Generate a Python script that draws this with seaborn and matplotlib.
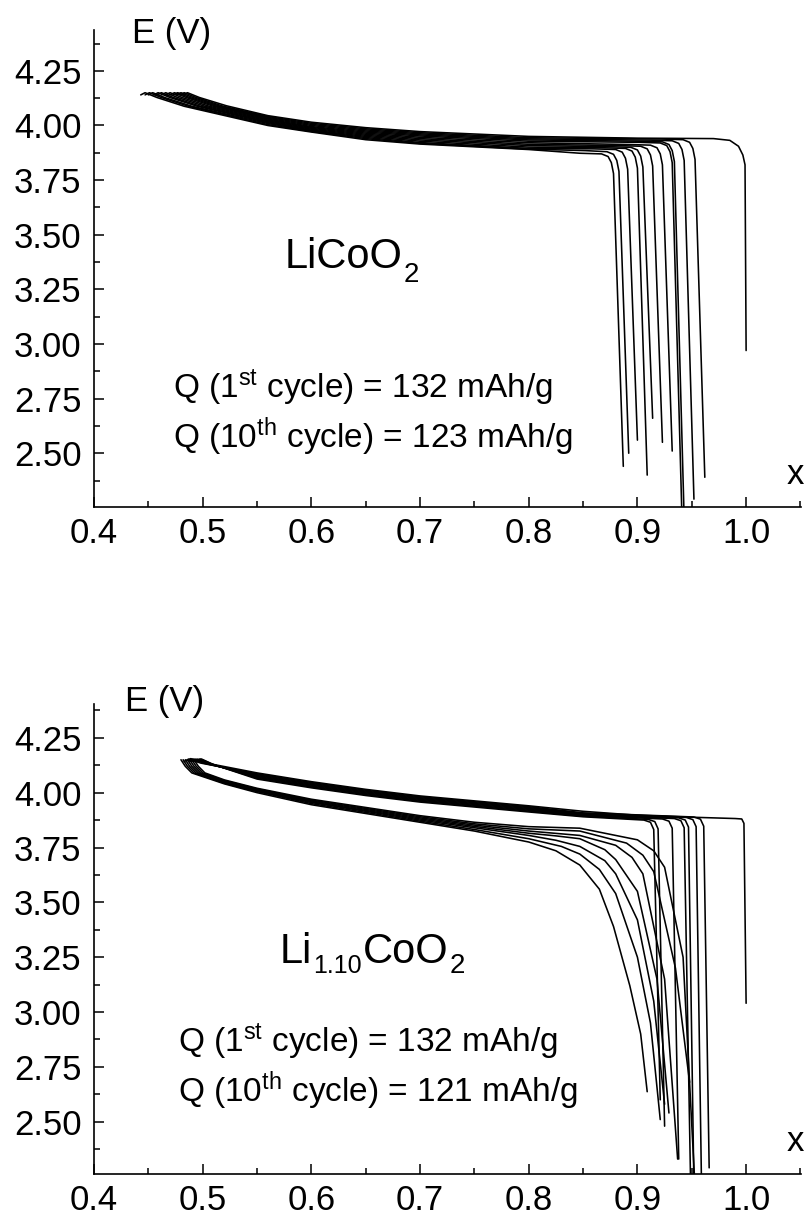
import numpy as np
import pandas as pd
import matplotlib
matplotlib.use("Agg")
import matplotlib.pyplot as plt
import seaborn as sns

# discharge curves, LiCoO2 (top panel), one list of points per cycle
top_x = [
    [.482, .486, .497, .522, .56, .6, .65, .7, .8, .9, .97, .985, .993, .997, .999, 1.0],
    [.479, .483, .494, .519, .56, .6, .65, .7, .8, .922, .942, .948, .951, .953, .962],
    [.476, .480, .491, .516, .56, .6, .65, .7, .8, .912, .932, .938, .941, .943, .952],
    [.473, .477, .488, .513, .56, .6, .65, .7, .8, .903, .923, .929, .932, .934, .943],
    [.470, .474, .485, .510, .56, .6, .65, .7, .8, .901, .921, .927, .930, .932, .941],
    [.466, .470, .481, .506, .56, .6, .65, .7, .8, .892, .912, .918, .921, .923, .932],
    [.462, .466, .477, .502, .56, .6, .65, .7, .8, .883, .903, .909, .912, .914, .923],
    [.458, .462, .473, .498, .56, .6, .65, .7, .8, .874, .894, .900, .903, .905, .914],
    [.455, .459, .470, .495, .56, .6, .65, .7, .8, .869, .889, .895, .898, .900, .909],
    [.450, .454, .465, .490, .56, .6, .65, .7, .8, .860, .880, .886, .889, .891, .900],
    [.447, .451, .462, .487, .56, .6, .65, .7, .8, .852, .872, .878, .881, .883, .892],
    [.443, .447, .458, .483, .56, .6, .65, .7, .8, .847, .867, .873, .876, .878, .887],
]
top_v = [
    [4.140, 4.150, 4.128, 4.090, 4.045, 4.015, 3.990, 3.972, 3.950, 3.942, 3.940, 3.932, 3.905, 3.865, 3.820, 2.97],
    [4.140, 4.150, 4.128, 4.088, 4.041, 4.010, 3.985, 3.967, 3.944, 3.938, 3.935, 3.923, 3.895, 3.845, 2.39],
    [4.140, 4.150, 4.128, 4.088, 4.037, 4.005, 3.980, 3.962, 3.939, 3.933, 3.930, 3.918, 3.890, 3.840, 2.29],
    [4.140, 4.150, 4.128, 4.088, 4.033, 4.000, 3.975, 3.957, 3.934, 3.928, 3.925, 3.913, 3.885, 3.835, 2.20],
    [4.140, 4.150, 4.128, 4.088, 4.029, 3.995, 3.970, 3.952, 3.928, 3.923, 3.920, 3.908, 3.880, 3.830, 2.20],
    [4.140, 4.150, 4.128, 4.088, 4.025, 3.991, 3.965, 3.946, 3.921, 3.913, 3.910, 3.898, 3.870, 3.820, 2.51],
    [4.140, 4.150, 4.128, 4.088, 4.021, 3.987, 3.960, 3.940, 3.914, 3.908, 3.905, 3.893, 3.865, 3.815, 2.55],
    [4.140, 4.150, 4.128, 4.088, 4.017, 3.983, 3.955, 3.934, 3.908, 3.903, 3.900, 3.888, 3.860, 3.810, 2.66],
    [4.140, 4.150, 4.128, 4.088, 4.013, 3.979, 3.950, 3.928, 3.901, 3.898, 3.895, 3.883, 3.855, 3.805, 2.40],
    [4.140, 4.150, 4.128, 4.088, 4.009, 3.976, 3.945, 3.922, 3.895, 3.893, 3.890, 3.878, 3.850, 3.800, 2.56],
    [4.140, 4.150, 4.128, 4.088, 4.004, 3.973, 3.940, 3.918, 3.892, 3.885, 3.880, 3.868, 3.840, 3.790, 2.50],
    [4.140, 4.150, 4.128, 4.088, 4.000, 3.970, 3.935, 3.915, 3.890, 3.873, 3.870, 3.858, 3.830, 3.780, 2.44],
]

# discharge curves, Li1.10CoO2 (bottom panel)
bot_x = [
    [.485, .489, .500, .55, .6, .65, .7, .8, .85, .9, .95, .990, .996, .998, 1.0],
    [.495, .499, .510, .55, .6, .65, .7, .8, .85, .906, .912, .915, .921],
    [.494, .498, .509, .55, .6, .65, .7, .8, .85, .910, .916, .919, .925],
    [.493, .497, .508, .55, .6, .65, .7, .8, .85, .923, .929, .932, .938],
    [.491, .495, .506, .55, .6, .65, .7, .8, .85, .934, .940, .943, .949],
    [.489, .493, .504, .55, .6, .65, .7, .8, .85, .938, .944, .947, .952],
    [.487, .491, .502, .55, .6, .65, .7, .8, .85, .945, .951, .954, .959],
    [.483, .487, .498, .55, .6, .65, .7, .8, .85, .952, .958, .961, .966],
    [.480, .484, .490, .52, .55, .6, .7, .75, .8, .825, .847, .865, .878, .893, .903, .909],
    [.482, .486, .492, .52, .55, .6, .7, .75, .8, .83, .847, .865, .88, .90, .912, .921],
    [.484, .488, .494, .52, .55, .6, .7, .75, .8, .825, .847, .87, .88, .90, .915, .925],
    [.486, .490, .496, .52, .55, .6, .7, .75, .8, .825, .847, .87, .88, .90, .918, .929],
    [.488, .492, .498, .52, .55, .6, .7, .75, .8, .847, .88, .895, .905, .925, .937],
    [.490, .494, .500, .52, .55, .6, .7, .75, .8, .847, .89, .905, .915, .935, .948],
    [.492, .496, .502, .52, .55, .6, .7, .75, .8, .847, .9, .915, .925, .942, .953],
]
bot_v = [
    [4.145, 4.155, 4.138, 4.090, 4.050, 4.015, 3.985, 3.940, 3.915, 3.897, 3.888, 3.882, 3.880, 3.860, 3.04],
    [4.142, 4.153, 4.128, 4.062, 4.022, 3.987, 3.957, 3.912, 3.890, 3.875, 3.865, 3.832, 2.60],
    [4.142, 4.153, 4.129, 4.066, 4.026, 3.991, 3.961, 3.916, 3.893, 3.878, 3.868, 3.835, 2.48],
    [4.142, 4.153, 4.130, 4.070, 4.030, 3.995, 3.965, 3.920, 3.896, 3.880, 3.870, 3.838, 2.33],
    [4.142, 4.153, 4.131, 4.074, 4.034, 3.999, 3.969, 3.924, 3.899, 3.882, 3.872, 3.840, 2.20],
    [4.142, 4.153, 4.132, 4.078, 4.038, 4.003, 3.973, 3.928, 3.902, 3.885, 3.875, 3.843, 2.20],
    [4.142, 4.153, 4.133, 4.082, 4.042, 4.007, 3.977, 3.932, 3.905, 3.887, 3.877, 3.845, 2.20],
    [4.142, 4.153, 4.135, 4.086, 4.046, 4.011, 3.981, 3.936, 3.908, 3.889, 3.879, 3.847, 2.29],
    [4.150, 4.120, 4.090, 4.040, 4.000, 3.945, 3.865, 3.825, 3.775, 3.735, 3.670, 3.560, 3.390, 3.120, 2.900, 2.637],
    [4.150, 4.120, 4.090, 4.043, 4.005, 3.950, 3.870, 3.832, 3.790, 3.755, 3.720, 3.650, 3.540, 3.250, 2.950, 2.510],
    [4.150, 4.120, 4.090, 4.046, 4.008, 3.955, 3.875, 3.840, 3.805, 3.783, 3.755, 3.690, 3.630, 3.420, 3.050, 2.580],
    [4.150, 4.120, 4.090, 4.049, 4.011, 3.958, 3.880, 3.846, 3.815, 3.803, 3.790, 3.740, 3.695, 3.550, 3.150, 2.540],
    [4.150, 4.120, 4.090, 4.052, 4.014, 3.962, 3.885, 3.852, 3.825, 3.805, 3.760, 3.705, 3.630, 3.150, 2.330],
    [4.150, 4.120, 4.090, 4.055, 4.017, 3.966, 3.890, 3.858, 3.835, 3.825, 3.770, 3.715, 3.640, 3.200, 2.680],
    [4.150, 4.120, 4.090, 4.058, 4.020, 3.970, 3.895, 3.865, 3.845, 3.838, 3.785, 3.735, 3.660, 3.250, 2.200],
]

x_ticks = [0.4, 0.5, 0.6, 0.7, 0.8, 0.9, 1.0]
y_ticks = [2.50, 2.75, 3.00, 3.25, 3.50, 3.75, 4.00, 4.25]

sns.set_style("ticks")
plt.rcParams['font.family'] = ['Liberation Sans', 'DejaVu Sans']
plt.rcParams['mathtext.fontset'] = 'custom'
plt.rcParams['mathtext.rm'] = 'Liberation Sans'
plt.rcParams['mathtext.it'] = 'Liberation Sans:italic'
plt.rcParams['mathtext.default'] = 'regular'
plt.rcParams['text.color'] = 'black'
plt.rcParams['xtick.color'] = 'black'
plt.rcParams['ytick.color'] = 'black'


def to_frame(xs, vs):
    rows = []
    for i, (cx, cv) in enumerate(zip(xs, vs)):
        for j, (a, b) in enumerate(zip(cx, cv)):
            rows.append((i, j, a, b))
    return pd.DataFrame(rows, columns=['cycle', 'k', 'x', 'E'])


def style_axis(ax, ylim):
    ax.set_xlim(0.4, 1.0505)
    ax.set_ylim(*ylim)
    ax.set_xticks(x_ticks)
    ax.set_xticks(np.arange(0.45, 1.06, 0.1), minor=True)
    ax.set_yticks(y_ticks)
    ax.set_yticks(np.arange(2.375, 4.4, 0.25), minor=True)
    ax.set_xticklabels([f"{t:.1f}" for t in x_ticks])
    ax.set_yticklabels([f"{t:.2f}" for t in y_ticks])
    ax.tick_params(which='both', direction='in', width=1.1, labelsize=25,
                   colors='black', labelcolor='black')
    ax.tick_params(which='major', length=7)
    ax.tick_params(which='minor', length=4)
    ax.tick_params(axis='x', pad=7)
    ax.tick_params(axis='y', pad=9)
    for s in ['top', 'right']:
        ax.spines[s].set_visible(False)
    for s in ['left', 'bottom']:
        ax.spines[s].set_linewidth(1.2)
        ax.spines[s].set_color('black')
    ax.set_xlabel('')
    ax.set_ylabel('')


W, H = 805, 1218
fig = plt.figure(figsize=(W / 100, H / 100), dpi=100)
ax1 = fig.add_axes([94 / W, 1 - 507 / H, 707 / W, 477 / H])
ax2 = fig.add_axes([94 / W, 1 - 1174 / H, 707 / W, 470 / H])

for ax, xs, vs in [(ax1, top_x, top_v), (ax2, bot_x, bot_v)]:
    sns.lineplot(data=to_frame(xs, vs), x='x', y='E', units='cycle', estimator=None,
                 sort=False, color='black', lw=1.15, ax=ax, legend=False)

style_axis(ax1, (2.254, 4.437))
style_axis(ax2, (2.262, 4.404))


def ftext(px, py, s, size):
    return fig.text(px / W, 1 - py / H, s, fontsize=size, va='baseline', ha='left', color='black')


def formula(px, py, pieces):
    # pieces: (text, fontsize, baseline drop in px), laid out left to right
    renderer = fig.canvas.get_renderer()
    for s, size, drop in pieces:
        t = ftext(px, py + drop, s, size)
        px = t.get_window_extent(renderer).x1 + 1


ftext(132, 43, "E (V)", 25)
ftext(787, 484, "x", 25)
formula(285, 268, [("LiCoO", 30, 0), ("2", 20, 14)])
ftext(173, 398, r"Q (1$^{st}$ cycle) = 132 mAh/g", 24)
ftext(173, 448, r"Q (10$^{th}$ cycle) = 123 mAh/g", 24)

ftext(125, 711, "E (V)", 25)
ftext(787, 1151, "x", 25)
formula(280, 963, [("Li", 30, 0), ("1.10", 18, 10), ("CoO", 30, 0), ("2", 20, 10)])
ftext(178, 1052, r"Q (1$^{st}$ cycle) = 132 mAh/g", 24)
ftext(178, 1102, r"Q (10$^{th}$ cycle) = 121 mAh/g", 24)

fig.savefig("out.png", dpi=100)
